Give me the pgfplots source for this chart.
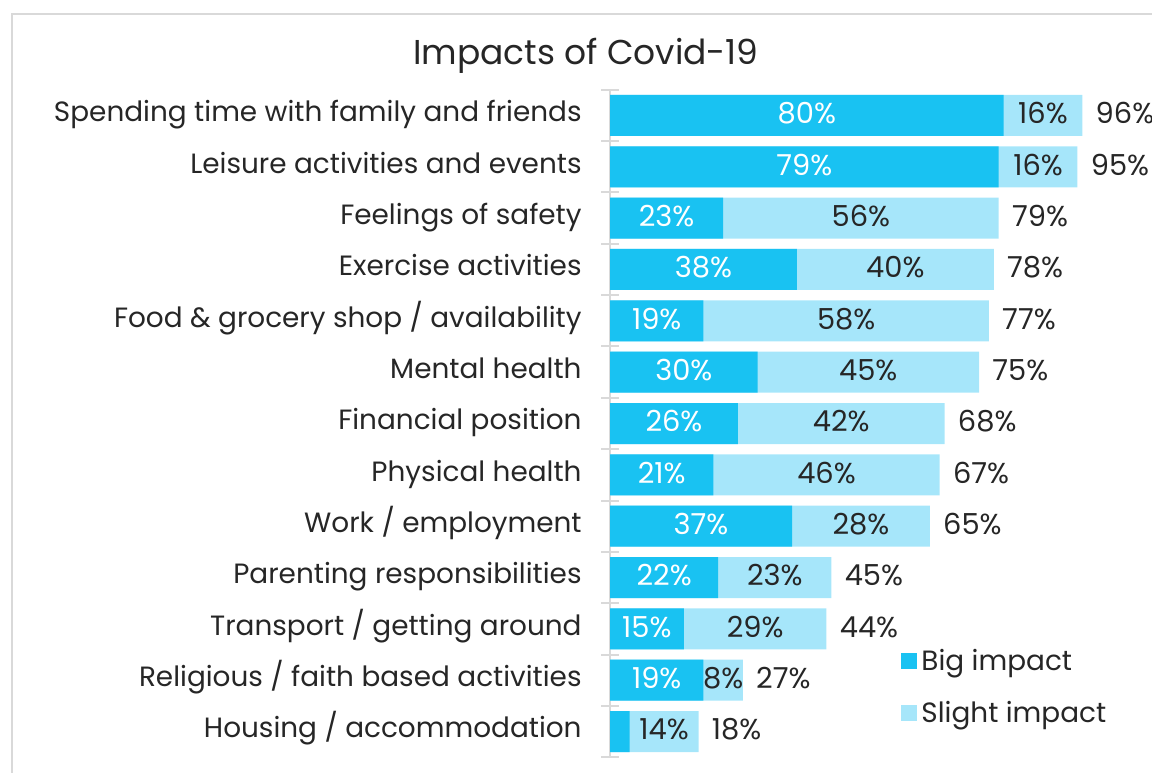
\documentclass[border=0pt]{standalone}
\usepackage{pgfplots}
\pgfplotsset{compat=1.18}
\usepackage{pgfplotstable}
\usepackage{fontspec}
\setmainfont{Poppins}
\definecolor{bigc}{HTML}{19C2F2}
\definecolor{slightc}{HTML}{A6E6FA}
\definecolor{txt}{HTML}{262626}
\definecolor{framec}{HTML}{D9D9D9}

\pgfplotstableread{
idx big slight total
0 80 16 96
1 79 16 95
2 23 56 79
3 38 40 78
4 19 58 77
5 30 45 75
6 26 42 68
7 21 46 67
8 37 28 65
9 22 23 45
10 15 29 44
11 19 8 27
12 4 14 18
}\data

\begin{document}
\begin{tikzpicture}
\useasboundingbox (0,0) rectangle (576bp,386.5bp);
\draw[framec, line width=1bp] (6bp,-10bp) -- (6bp,379.5bp) -- (590bp,379.5bp);
\node[txt, font=\fontsize{17.3}{20}\selectfont] at (293bp,358.5bp) {Impacts of Covid-19};
\begin{axis}[
  at={(305bp,7.9bp)}, anchor=south west,
  scale only axis, width=246bp, height=333.7bp,
  xmin=0, xmax=100, ymin=-0.5, ymax=12.5, y dir=reverse,
  axis x line=none, axis y line*=left,
  axis line style={-, draw=framec, line width=1bp},
  clip=false,
  ytick={0,...,12},
  yticklabels={Spending time with family and friends, Leisure activities and events, Feelings of safety, Exercise activities, Food \& grocery shop / availability, Mental health, Financial position, Physical health, Work / employment, Parenting responsibilities, Transport / getting around, Religious / faith based activities, Housing / accommodation},
  major tick length=0pt,
  minor ytick={-0.5,0.5,...,12.5},
  minor tick length=8.5bp, tick align=center,
  minor tick style={draw=framec, line width=1bp},
  yticklabel style={anchor=mid east, inner sep=0pt, xshift=-14bp, yshift=-0.5bp, text=txt, font=\fontsize{14}{16}\selectfont},
  bar width=20.5bp,
  legend style={at={(0.5916,0.169)}, anchor=north west, draw=none, fill=none, inner sep=0pt, row sep=10bp, font=\fontsize{14}{16}\selectfont, text=txt},
  legend cell align=left,
  legend image code/.code={\fill[#1, draw=none] (0bp,-4bp) rectangle (8bp,4bp);},
]
\addplot[xbar, bar shift=0pt, fill=slightc, draw=none, forget plot] table[x=total, y=idx] {\data};
\addplot[xbar, bar shift=0pt, fill=bigc, draw=none, forget plot] table[x=big, y=idx] {\data};
% labels for big impact
\addplot[draw=none, mark=none, forget plot, skip coords between index={12}{13},
  point meta=explicit symbolic,
  nodes near coords={\pgfplotspointmeta\%},
  every node near coord/.style={anchor=mid, yshift=-1.5bp, text=white, font=\fontsize{14.5}{16}\selectfont}]
  table[x expr=\thisrow{big}/2, y=idx, meta=big] {\data};
% labels for slight impact
\addplot[draw=none, mark=none, forget plot,
  point meta=explicit symbolic,
  nodes near coords={\pgfplotspointmeta\%},
  every node near coord/.style={anchor=mid, yshift=-1.5bp, text=txt, font=\fontsize{14.5}{16}\selectfont}]
  table[x expr=\thisrow{big}+\thisrow{slight}/2, y=idx, meta=slight] {\data};
% totals
\addplot[draw=none, mark=none, forget plot,
  point meta=explicit symbolic,
  nodes near coords={\pgfplotspointmeta\%},
  every node near coord/.style={anchor=mid west, inner sep=0pt, xshift=6.5bp, yshift=-1.5bp, text=txt, font=\fontsize{14.5}{16}\selectfont}]
  table[x=total, y=idx, meta=total] {\data};
\addlegendimage{fill=bigc}
\addlegendentry{Big impact}
\addlegendimage{fill=slightc}
\addlegendentry{Slight impact}
\end{axis}
\end{tikzpicture}
\end{document}
